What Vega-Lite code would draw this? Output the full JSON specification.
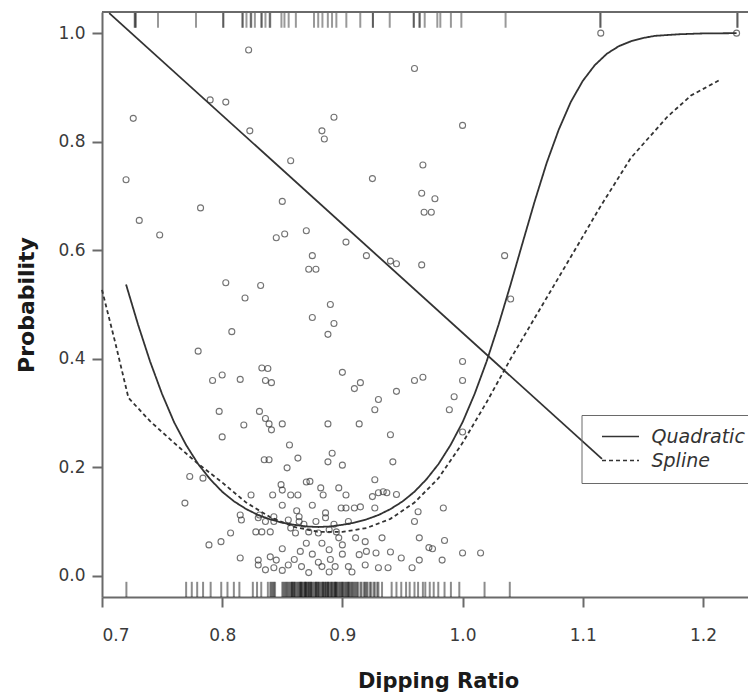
{
  "$schema": "https://vega.github.io/schema/vega-lite/v6.json",
  "autosize": {"type": "none"},
  "width": 646,
  "height": 585,
  "padding": {"left": 102, "top": 12, "right": 0, "bottom": 97},
  "background": "white",
  "config": {
    "view": {"stroke": null},
    "axis": {
      "grid": false,
      "domainColor": "#6a6a6a",
      "domainWidth": 2,
      "tickColor": "#6a6a6a",
      "tickWidth": 2,
      "tickSize": 10,
      "labelColor": "#3a3a3a",
      "labelFont": "DejaVu Sans",
      "labelFontSize": 17,
      "titleFont": "DejaVu Sans",
      "titleFontWeight": "bold",
      "titleFontSize": 21,
      "titleColor": "#1a1a1a"
    },
    "legend": {
      "labelFont": "DejaVu Sans",
      "labelFontStyle": "italic",
      "labelFontSize": 19,
      "labelColor": "#333333"
    }
  },
  "datasets": {
    "pts": [
      {"x":0.720,"p":0.730},{"x":0.726,"p":0.843},{"x":0.731,"p":0.655},{"x":0.748,"p":0.628},
      {"x":0.782,"p":0.678},{"x":0.790,"p":0.877},{"x":0.803,"p":0.873},{"x":0.822,"p":0.969},
      {"x":0.823,"p":0.820},{"x":0.803,"p":0.540},{"x":0.808,"p":0.450},{"x":0.819,"p":0.512},
      {"x":0.832,"p":0.535},{"x":0.780,"p":0.414},{"x":0.850,"p":0.690},{"x":0.857,"p":0.765},
      {"x":0.845,"p":0.623},{"x":0.852,"p":0.630},{"x":0.870,"p":0.636},{"x":0.875,"p":0.590},
      {"x":0.878,"p":0.565},{"x":0.872,"p":0.565},{"x":0.875,"p":0.476},{"x":0.883,"p":0.820},
      {"x":0.885,"p":0.805},{"x":0.893,"p":0.845},{"x":0.890,"p":0.500},{"x":0.893,"p":0.465},
      {"x":0.888,"p":0.445},{"x":0.903,"p":0.615},{"x":0.920,"p":0.590},{"x":0.925,"p":0.732},
      {"x":0.940,"p":0.580},{"x":0.945,"p":0.575},{"x":0.960,"p":0.935},{"x":0.967,"p":0.757},
      {"x":0.966,"p":0.705},{"x":0.968,"p":0.670},{"x":0.977,"p":0.695},{"x":0.974,"p":0.670},
      {"x":0.966,"p":0.573},{"x":1.000,"p":0.830},{"x":1.035,"p":0.590},{"x":1.040,"p":0.510},
      {"x":1.115,"p":1.000},{"x":1.228,"p":1.000},
      {"x":0.792,"p":0.360},{"x":0.800,"p":0.370},{"x":0.815,"p":0.362},{"x":0.833,"p":0.383},
      {"x":0.838,"p":0.382},{"x":0.836,"p":0.360},{"x":0.841,"p":0.356},{"x":0.900,"p":0.375},
      {"x":0.910,"p":0.345},{"x":0.915,"p":0.356},{"x":0.927,"p":0.306},{"x":0.930,"p":0.325},
      {"x":0.945,"p":0.340},{"x":0.960,"p":0.360},{"x":0.967,"p":0.366},{"x":0.989,"p":0.306},
      {"x":0.993,"p":0.330},{"x":1.000,"p":0.360},{"x":1.000,"p":0.395},{"x":0.7975,"p":0.303},
      {"x":0.831,"p":0.303},{"x":0.836,"p":0.290},{"x":0.818,"p":0.278},{"x":0.839,"p":0.280},
      {"x":0.850,"p":0.280},{"x":0.841,"p":0.269},{"x":0.800,"p":0.256},{"x":0.888,"p":0.280},
      {"x":0.914,"p":0.280},{"x":0.940,"p":0.260},{"x":0.856,"p":0.241},{"x":0.8915,"p":0.226},
      {"x":0.835,"p":0.214},{"x":0.839,"p":0.214},{"x":0.863,"p":0.217},{"x":0.854,"p":0.199},
      {"x":0.888,"p":0.210},{"x":0.900,"p":0.204},{"x":0.942,"p":0.210},{"x":1.000,"p":0.265},
      {"x":0.773,"p":0.183},{"x":0.784,"p":0.180},{"x":0.873,"p":0.174},{"x":0.882,"p":0.162},
      {"x":0.927,"p":0.177},{"x":0.850,"p":0.158},{"x":0.824,"p":0.149},{"x":0.842,"p":0.149},
      {"x":0.863,"p":0.149},{"x":0.897,"p":0.162},{"x":0.903,"p":0.149},{"x":0.925,"p":0.146},
      {"x":0.934,"p":0.155},{"x":0.769,"p":0.134},{"x":0.815,"p":0.112},{"x":0.831,"p":0.112},
      {"x":0.843,"p":0.109},{"x":0.864,"p":0.109},{"x":0.886,"p":0.116},{"x":0.903,"p":0.125},
      {"x":0.910,"p":0.125},{"x":0.927,"p":0.125},{"x":0.963,"p":0.118},{"x":0.984,"p":0.125},
      {"x":0.849,"p":0.168},{"x":0.870,"p":0.173},{"x":0.857,"p":0.149},{"x":0.884,"p":0.149},
      {"x":0.930,"p":0.153},{"x":0.937,"p":0.153},{"x":0.899,"p":0.125},{"x":0.915,"p":0.127},
      {"x":0.816,"p":0.103},{"x":0.830,"p":0.107},{"x":0.836,"p":0.100},{"x":0.843,"p":0.100},
      {"x":0.855,"p":0.103},{"x":0.864,"p":0.100},{"x":0.828,"p":0.081},{"x":0.833,"p":0.081},
      {"x":0.840,"p":0.081},{"x":0.857,"p":0.088},{"x":0.861,"p":0.079},{"x":0.872,"p":0.081},
      {"x":0.880,"p":0.079},{"x":0.886,"p":0.107},{"x":0.889,"p":0.085},{"x":0.895,"p":0.081},
      {"x":0.883,"p":0.060},{"x":0.900,"p":0.057},{"x":0.911,"p":0.070},{"x":0.919,"p":0.063},
      {"x":0.933,"p":0.070},{"x":0.964,"p":0.070},{"x":0.789,"p":0.057},{"x":0.799,"p":0.063},
      {"x":0.807,"p":0.079},{"x":0.889,"p":0.048},{"x":0.914,"p":0.039},{"x":0.928,"p":0.042},
      {"x":0.940,"p":0.044},{"x":0.949,"p":0.033},{"x":0.964,"p":0.029},{"x":0.972,"p":0.052},
      {"x":0.983,"p":0.029},{"x":1.000,"p":0.042},{"x":1.015,"p":0.042},{"x":0.815,"p":0.033},
      {"x":0.830,"p":0.029},{"x":0.840,"p":0.035},{"x":0.845,"p":0.029},{"x":0.830,"p":0.020},
      {"x":0.836,"p":0.011},{"x":0.843,"p":0.015},{"x":0.855,"p":0.020},{"x":0.866,"p":0.017},
      {"x":0.883,"p":0.017},{"x":0.894,"p":0.017},{"x":0.905,"p":0.017},{"x":0.919,"p":0.020},
      {"x":0.930,"p":0.015},{"x":0.938,"p":0.015},{"x":0.872,"p":0.006},{"x":0.889,"p":0.007},
      {"x":0.908,"p":0.007},{"x":0.958,"p":0.015},{"x":0.850,"p":0.010},{"x":0.860,"p":0.030},
      {"x":0.875,"p":0.040},{"x":0.870,"p":0.060},{"x":0.890,"p":0.030},{"x":0.900,"p":0.040},
      {"x":0.920,"p":0.045},{"x":0.850,"p":0.050},{"x":0.862,"p":0.120},{"x":0.875,"p":0.130},
      {"x":0.893,"p":0.095},{"x":0.905,"p":0.100},{"x":0.850,"p":0.130},{"x":0.868,"p":0.095},
      {"x":0.878,"p":0.100},{"x":0.897,"p":0.070},{"x":0.880,"p":0.025},{"x":0.865,"p":0.045},
      {"x":0.985,"p":0.065},{"x":0.960,"p":0.100},{"x":0.975,"p":0.050},{"x":0.945,"p":0.150}
    ],
    "curves": [
      {"model":"Quadratic","x":0.72,"p":0.537},{"model":"Quadratic","x":0.73,"p":0.463},
      {"model":"Quadratic","x":0.74,"p":0.395},{"model":"Quadratic","x":0.75,"p":0.335},
      {"model":"Quadratic","x":0.76,"p":0.283},{"model":"Quadratic","x":0.77,"p":0.241},
      {"model":"Quadratic","x":0.78,"p":0.206},{"model":"Quadratic","x":0.79,"p":0.178},
      {"model":"Quadratic","x":0.80,"p":0.155},{"model":"Quadratic","x":0.81,"p":0.137},
      {"model":"Quadratic","x":0.82,"p":0.123},{"model":"Quadratic","x":0.83,"p":0.112},
      {"model":"Quadratic","x":0.84,"p":0.104},{"model":"Quadratic","x":0.85,"p":0.098},
      {"model":"Quadratic","x":0.86,"p":0.094},{"model":"Quadratic","x":0.87,"p":0.091},
      {"model":"Quadratic","x":0.88,"p":0.090},{"model":"Quadratic","x":0.89,"p":0.091},
      {"model":"Quadratic","x":0.90,"p":0.094},{"model":"Quadratic","x":0.91,"p":0.098},
      {"model":"Quadratic","x":0.92,"p":0.104},{"model":"Quadratic","x":0.93,"p":0.112},
      {"model":"Quadratic","x":0.94,"p":0.123},{"model":"Quadratic","x":0.95,"p":0.137},
      {"model":"Quadratic","x":0.96,"p":0.155},{"model":"Quadratic","x":0.97,"p":0.178},
      {"model":"Quadratic","x":0.98,"p":0.206},{"model":"Quadratic","x":0.99,"p":0.241},
      {"model":"Quadratic","x":1.00,"p":0.283},{"model":"Quadratic","x":1.01,"p":0.335},
      {"model":"Quadratic","x":1.02,"p":0.395},{"model":"Quadratic","x":1.03,"p":0.463},
      {"model":"Quadratic","x":1.04,"p":0.537},{"model":"Quadratic","x":1.05,"p":0.614},
      {"model":"Quadratic","x":1.06,"p":0.690},{"model":"Quadratic","x":1.07,"p":0.761},
      {"model":"Quadratic","x":1.08,"p":0.822},{"model":"Quadratic","x":1.09,"p":0.873},
      {"model":"Quadratic","x":1.10,"p":0.912},{"model":"Quadratic","x":1.11,"p":0.941},
      {"model":"Quadratic","x":1.12,"p":0.962},{"model":"Quadratic","x":1.13,"p":0.976},
      {"model":"Quadratic","x":1.14,"p":0.985},{"model":"Quadratic","x":1.15,"p":0.991},
      {"model":"Quadratic","x":1.16,"p":0.995},{"model":"Quadratic","x":1.18,"p":0.998},
      {"model":"Quadratic","x":1.20,"p":0.9995},{"model":"Quadratic","x":1.228,"p":1.0},
      {"model":"Spline","x":0.700,"p":0.527},{"model":"Spline","x":0.711,"p":0.430},
      {"model":"Spline","x":0.722,"p":0.328},{"model":"Spline","x":0.740,"p":0.285},
      {"model":"Spline","x":0.760,"p":0.245},{"model":"Spline","x":0.778,"p":0.210},
      {"model":"Spline","x":0.800,"p":0.172},{"model":"Spline","x":0.820,"p":0.135},
      {"model":"Spline","x":0.840,"p":0.108},{"model":"Spline","x":0.860,"p":0.090},
      {"model":"Spline","x":0.880,"p":0.081},{"model":"Spline","x":0.900,"p":0.081},
      {"model":"Spline","x":0.920,"p":0.088},{"model":"Spline","x":0.940,"p":0.105},
      {"model":"Spline","x":0.960,"p":0.135},{"model":"Spline","x":0.980,"p":0.180},
      {"model":"Spline","x":1.000,"p":0.245},{"model":"Spline","x":1.020,"p":0.320},
      {"model":"Spline","x":1.040,"p":0.400},{"model":"Spline","x":1.060,"p":0.475},
      {"model":"Spline","x":1.080,"p":0.550},{"model":"Spline","x":1.100,"p":0.625},
      {"model":"Spline","x":1.114,"p":0.678},{"model":"Spline","x":1.140,"p":0.770},
      {"model":"Spline","x":1.170,"p":0.845},{"model":"Spline","x":1.190,"p":0.885},
      {"model":"Spline","x":1.215,"p":0.915}
    ],
    "lin": [{"x":0.706,"p":1.037},{"x":1.116,"p":0.2155}],
    "rug1": [
      {"x":0.7273},{"x":0.7273},{"x":0.7283},{"x":0.7466},{"x":0.7782},{"x":0.8009},{"x":0.8009},
      {"x":0.8167},{"x":0.8172},{"x":0.8202},{"x":0.8237},{"x":0.8242},{"x":0.8272},
      {"x":0.8325},{"x":0.8330},{"x":0.8360},{"x":0.8395},{"x":0.8400},{"x":0.8493},{"x":0.8518},
      {"x":0.8553},{"x":0.8613},{"x":0.8764},{"x":0.8799},{"x":0.8834},{"x":0.8879},{"x":0.8914},
      {"x":0.8950},{"x":0.9033},{"x":0.9149},{"x":0.9254},{"x":0.9254},{"x":0.9394},{"x":0.9594},
      {"x":0.9594},{"x":0.9640},{"x":0.9645},{"x":0.9685},{"x":0.9790},{"x":0.9815},{"x":0.9903},
      {"x":0.9990},{"x":1.0358},{"x":1.1147},{"x":1.1147},{"x":1.2287},{"x":1.2287}
    ],
    "rug0": [
      {"x":0.7203},{"x":0.7700},{"x":0.7747},{"x":0.7792},{"x":0.7841},{"x":0.7904},{"x":0.7992},
      {"x":0.8044},{"x":0.8097},{"x":0.8143},{"x":0.8255},{"x":0.8290},{"x":0.8325},{"x":0.8380},
      {"x":0.8400},{"x":0.8420},{"x":0.8440},{"x":0.8500},{"x":0.8520},{"x":0.8530},{"x":0.8550},
      {"x":0.8570},{"x":0.8580},{"x":0.8600},{"x":0.8610},{"x":0.8630},{"x":0.8650},{"x":0.8660},
      {"x":0.8680},{"x":0.8700},{"x":0.8710},{"x":0.8730},{"x":0.8750},{"x":0.8760},{"x":0.8780},
      {"x":0.8800},{"x":0.8820},{"x":0.8830},{"x":0.8850},{"x":0.8870},{"x":0.8880},{"x":0.8900},
      {"x":0.8920},{"x":0.8940},{"x":0.8960},{"x":0.8980},{"x":0.9000},{"x":0.9020},{"x":0.9040},
      {"x":0.9060},{"x":0.9080},{"x":0.9110},{"x":0.9130},{"x":0.9160},{"x":0.9190},{"x":0.9210},
      {"x":0.9240},{"x":0.9270},{"x":0.9300},{"x":0.9330},{"x":0.9410},{"x":0.9450},{"x":0.9490},
      {"x":0.9530},{"x":0.9600},{"x":0.9630},{"x":0.9670},{"x":0.9727},{"x":0.9760},{"x":0.9798},
      {"x":0.9850},{"x":0.9903},{"x":0.9973},{"x":1.0183},{"x":1.0393},
      {"x":0.8540},{"x":0.8600},{"x":0.8660},{"x":0.8700},{"x":0.8740},{"x":0.8800},{"x":0.8840},
      {"x":0.8880},{"x":0.8910},{"x":0.8950},{"x":0.9000},{"x":0.9050},{"x":0.8650},{"x":0.8720},
      {"x":0.8780},{"x":0.8860},{"x":0.8940},{"x":0.9100},{"x":0.9200},{"x":0.8580},{"x":0.8690},
      {"x":0.8510},{"x":0.8560},{"x":0.8590},{"x":0.8620},{"x":0.8640},{"x":0.8670},{"x":0.8690},
      {"x":0.8720},{"x":0.8740},{"x":0.8770},{"x":0.8790},{"x":0.8810},{"x":0.8840},{"x":0.8860},
      {"x":0.8890},{"x":0.8910},{"x":0.8930},{"x":0.8950},{"x":0.8970},{"x":0.8990},{"x":0.9010},
      {"x":0.9030},{"x":0.9050},{"x":0.9070},{"x":0.9090},{"x":0.9120},{"x":0.9150},{"x":0.9180},
      {"x":0.9230},{"x":0.9260},{"x":0.9290},{"x":0.8410},{"x":0.8430},{"x":0.9560},{"x":0.9690}
    ]
  },
  "layer": [
    {
      "data": {"name": "rug1"},
      "mark": {"type": "rule", "color": "black", "opacity": 0.4, "strokeWidth": 2},
      "encoding": {
        "x": {"field": "x", "type": "quantitative",
              "scale": {"domain": [0.7, 1.2375], "nice": false, "zero": false},
              "axis": {"title": "Dipping Ratio", "values": [0.7, 0.8, 0.9, 1.0, 1.1, 1.2], "format": ".1f",
                       "labelPadding": 20, "titlePadding": 27, "titleX": 336}},
        "y": {"datum": 1.039, "type": "quantitative",
              "scale": {"domain": [-0.039, 1.039], "nice": false, "zero": false},
              "axis": {"title": "Probability", "values": [0, 0.2, 0.4, 0.6, 0.8, 1.0], "format": ".1f",
                       "labelPadding": 7, "titlePadding": 19, "titleFontSize": 22}},
        "y2": {"datum": 1.01}
      }
    },
    {
      "data": {"name": "rug0"},
      "mark": {"type": "rule", "color": "black", "opacity": 0.45, "strokeWidth": 2},
      "encoding": {
        "x": {"field": "x", "type": "quantitative"},
        "y": {"datum": -0.039, "type": "quantitative"},
        "y2": {"datum": -0.011}
      }
    },
    {
      "data": {"values": [{"top": 1.039}]},
      "mark": {"type": "rule", "color": "#6a6a6a", "strokeWidth": 2},
      "encoding": {"y": {"field": "top", "type": "quantitative"}}
    },
    {
      "data": {"name": "pts"},
      "mark": {"type": "point", "shape": "circle", "filled": false, "size": 36, "color": "#383838", "strokeWidth": 1.1},
      "encoding": {
        "x": {"field": "x", "type": "quantitative"},
        "y": {"field": "p", "type": "quantitative"}
      }
    },
    {
      "data": {"name": "curves"},
      "mark": {"type": "line", "color": "#333333", "strokeWidth": 1.8},
      "encoding": {
        "x": {"field": "x", "type": "quantitative"},
        "y": {"field": "p", "type": "quantitative"},
        "strokeDash": {"field": "model", "type": "nominal",
          "scale": {"domain": ["Quadratic", "Spline"], "range": [[1, 0], [4, 3]]},
          "legend": {"orient": "none", "legendX": 479.5, "legendY": 403, "title": null,
                     "strokeColor": "#6a6a6a", "padding": 12, "rowPadding": 4,
                     "symbolType": "M-3,0H3", "symbolSize": 152, "symbolStrokeWidth": 1.6,
                     "symbolStrokeColor": "#333333", "symbolOffset": 17.5, "labelOffset": 21.5}}
      }
    },
    {
      "data": {"name": "lin"},
      "mark": {"type": "line", "color": "#333333", "strokeWidth": 1.8},
      "encoding": {
        "x": {"field": "x", "type": "quantitative"},
        "y": {"field": "p", "type": "quantitative"}
      }
    }
  ]
}
